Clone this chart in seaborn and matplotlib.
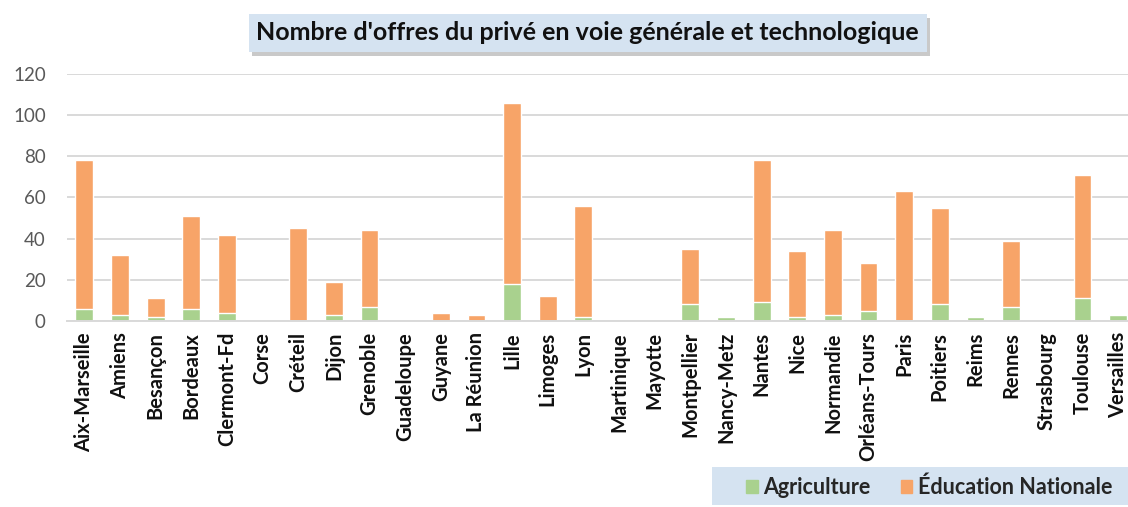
import pandas as pd
import matplotlib.pyplot as plt
import seaborn as sns

# Offres du privé par académie
academies = ["Aix-Marseille", "Amiens", "Besançon", "Bordeaux", "Clermont-Fd", "Corse",
             "Créteil", "Dijon", "Grenoble", "Guadeloupe", "Guyane", "La Réunion", "Lille",
             "Limoges", "Lyon", "Martinique", "Mayotte", "Montpellier", "Nancy-Metz", "Nantes",
             "Nice", "Normandie", "Orléans-Tours", "Paris", "Poitiers", "Reims", "Rennes",
             "Strasbourg", "Toulouse", "Versailles"]
agriculture = [6, 3, 2, 6, 4, 0, 0, 3, 7, 0, 0, 0, 18, 0, 2, 0, 0, 8, 2, 9,
               2, 3, 5, 0, 8, 2, 7, 0, 11, 3]
education_nationale = [72, 29, 9, 45, 38, 0, 45, 16, 37, 0, 4, 3, 88, 12, 54, 0, 0, 27, 0, 69,
                       32, 41, 23, 63, 47, 0, 32, 0, 60, 0]
yticks = [0, 20, 40, 60, 80, 100, 120]

sns.set_style("white")
plt.rcParams["font.family"] = ["Lato", "DejaVu Sans"]

df = pd.DataFrame({"academie": academies, "agri": agriculture, "edu": education_nationale})
df["total"] = df["agri"] + df["edu"]

col_agri = "#A9D18E"
col_edu = "#F7A468"
box_blue = "#D5E3F1"

fig = plt.figure(figsize=(11.28, 5.07), dpi=100)
ax = fig.add_axes([0.059, 0.367, 0.948, 0.487])

sns.barplot(data=df, x="academie", y="total", order=academies, color=col_edu,
            width=0.5, saturation=1, ax=ax, legend=False)
sns.barplot(data=df, x="academie", y="agri", order=academies, color=col_agri,
            width=0.5, saturation=1, ax=ax, legend=False)

ax.set_ylim(0, 120)
ax.set_xlim(-0.5, len(academies) - 0.5)
ax.set_yticks(yticks)
ax.yaxis.grid(True, color="#D9D9D9", linewidth=1.4)
ax.set_axisbelow(True)
for s in ["top", "right", "left"]:
    ax.spines[s].set_visible(False)
ax.spines["bottom"].set_color("#D9D9D9")
ax.spines["bottom"].set_linewidth(1.4)
ax.set_xlabel("")
ax.set_ylabel("")
ax.tick_params(axis="y", length=0, labelsize=13.5, labelcolor="#595959", pad=15)
ax.tick_params(axis="x", length=0, pad=8)
plt.setp(ax.get_xticklabels(), rotation=90, fontsize=14.5, fontweight="bold", color="#111111")

# titre dans un cadre bleu avec ombre
title = fig.text(0.521, 0.935, "Nombre d'offres du privé en voie générale et technologique",
                 ha="center", va="center", fontsize=18, fontweight="bold", color="#111111",
                 zorder=3,
                 bbox=dict(boxstyle="square,pad=0.3", facecolor=box_blue, edgecolor="none"))
fig.canvas.draw()
bb = title.get_bbox_patch().get_window_extent().transformed(fig.transFigure.inverted())
fig.patches.append(plt.Rectangle((bb.x0 + 3 / 1128, bb.y0 - 4 / 507), bb.width, bb.height,
                                 transform=fig.transFigure, facecolor="#A6A6A6",
                                 edgecolor="none", alpha=0.6, zorder=1))

# légende en bas à droite
fig.patches.append(plt.Rectangle((712 / 1128, 2 / 507), 1 - 712 / 1128, 38 / 507,
                                 transform=fig.transFigure, facecolor=box_blue,
                                 edgecolor="none", zorder=0))
handles = [plt.Rectangle((0, 0), 1, 1, color=col_agri), plt.Rectangle((0, 0), 1, 1, color=col_edu)]
fig.legend(handles, ["Agriculture", "Éducation Nationale"], loc="center right",
           bbox_to_anchor=(0.986, 0.039), ncol=2, frameon=False,
           prop={"weight": "bold", "size": 15.5}, handlelength=0.55, handleheight=0.55,
           columnspacing=1.4, handletextpad=0.25, borderpad=0, borderaxespad=0)

plt.savefig("out.png", dpi=100)
